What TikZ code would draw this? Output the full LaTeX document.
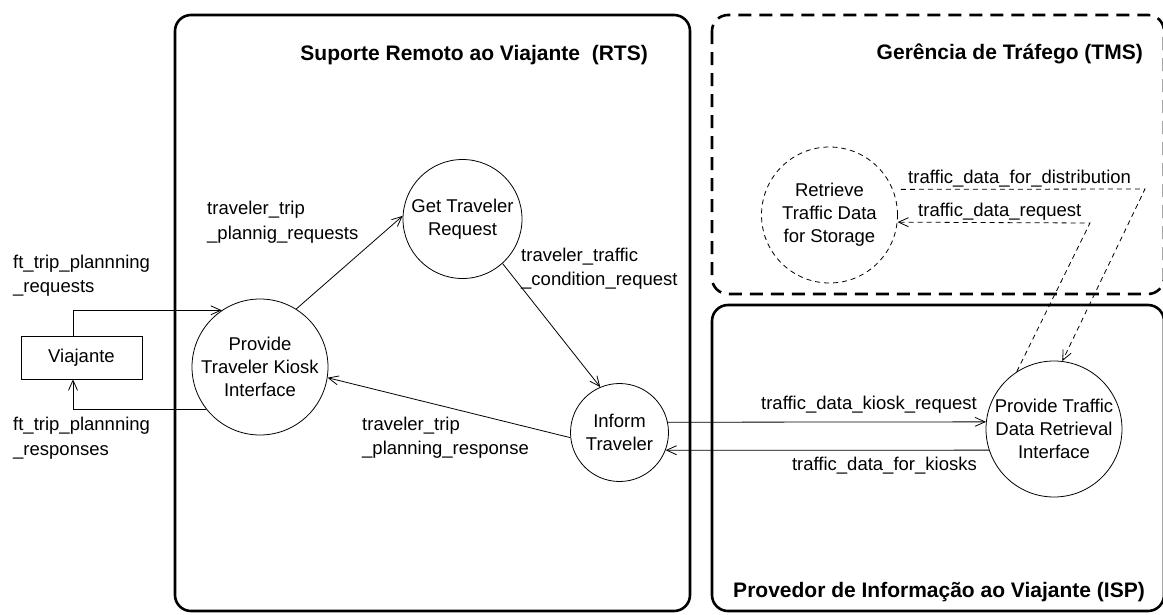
\documentclass[tikz,border=0pt]{standalone}
\usepackage{fontspec}
\setmainfont{Liberation Sans}
\usetikzlibrary{arrows.meta}
\begin{document}
\begin{tikzpicture}[x=1pt,y=-1pt,
  proc/.style={circle,draw,line width=0.8pt,inner sep=0pt,align=center,
    font=\fontsize{18.5}{23}\selectfont},
  ext/.style={draw,line width=0.8pt,inner sep=0pt,font=\fontsize{18.5}{23}\selectfont},
  flow/.style={line width=0.8pt,-{Straight Barb[length=10pt,width=9pt]}},
  store/.style={dash pattern=on 5pt off 4pt},
  lbl/.style={align=left,inner sep=0pt,font=\fontsize{18.5}{24.5}\selectfont},
  title/.style={inner sep=0pt,font=\fontsize{21}{24}\selectfont\bfseries},
  region/.style={line width=2.6pt,rounded corners=16pt}]
\useasboundingbox (0,0) rectangle (1163,614);

% subsystem boundaries
\draw[region] (175,15) rectangle (690,611);
\draw[region,dash pattern=on 13pt off 8pt] (712,15) rectangle (1164,294);
\draw[region] (712,305) rectangle (1164,611);

\node[title,anchor=east] (tRTS) at (648,55) {Suporte Remoto ao Viajante\ \ (RTS)};
\node[title,anchor=east] (tTMS) at (1143,54) {Gerência de Tráfego (TMS)};
\node[title,anchor=east] (tISP) at (1145,592) {Provedor de Informação ao Viajante (ISP)};

% terminator and processes
\node[ext,minimum width=121pt,minimum height=43pt] (via) at (81.5,357.5) {Viajante};
\node[proc,minimum size=136pt] (kiosk) at (260,367) {Provide\\Traveler Kiosk\\Interface};
\node[proc,minimum size=119pt] (get) at (462.5,219) {Get Traveler\\Request};
\node[proc,minimum size=98pt] (inform) at (619.5,432.5) {Inform\\Traveler};
\node[proc,minimum size=136pt] (prov) at (1054,429) {Provide Traffic\\Data Retrieval\\Interface};
\node[proc,store,minimum size=136pt] (ret) at (829.5,215) {Retrieve\\Traffic Data\\for Storage};

% data flows
\draw[flow] ([xshift=-8.5pt]via.north) |- (kiosk.124.6);
\draw[flow] (kiosk.218.1) -| ([xshift=-8.5pt]via.south);
\draw[flow] (kiosk.58) -- (get.177);
\draw[flow] (get.-48.7) -- (inform.113.5);
\draw[flow] (inform.186.5) -- (kiosk.-9);
\draw[flow] (inform.12) -- (prov.174.35);
\draw[flow] (prov.198) -- (inform.-21);

\coordinate (bendA) at (1145,189);
\coordinate (bendB) at (1090,223);
\draw[flow,store,shorten <=8pt] (ret.22.5) -- (bendA) -- (prov.83);
\draw[flow,store] (prov.123.5) -- (bendB) -- (ret.-6);

% flow labels
\node[lbl,anchor=west] (lReq) at (13,275.5) {ft\_trip\_plannning\\\_requests};
\node[lbl,anchor=west] (lResp) at (13,438) {ft\_trip\_plannning\\\_responses};
\node[lbl,anchor=west] (lTTP) at (207,222) {traveler\_trip\\\_plannig\_requests};
\node[lbl,anchor=west] (lTTC) at (521,268.5) {traveler\_traffic\\\_condition\_request};
\node[lbl,anchor=west] (lTPR) at (362,437.5) {traveler\_trip\\\_planning\_response};
\node[lbl,anchor=east] (lKR) at (977,405) {traffic\_data\_kiosk\_request};
\node[lbl,anchor=east] (lFK) at (977,466) {traffic\_data\_for\_kiosks};
\node[lbl,anchor=west] (lFD) at (908,179) {traffic\_data\_for\_distribution};
\node[lbl,anchor=west] (lDR) at (918,212) {traffic\_data\_request};
\end{tikzpicture}
\end{document}
